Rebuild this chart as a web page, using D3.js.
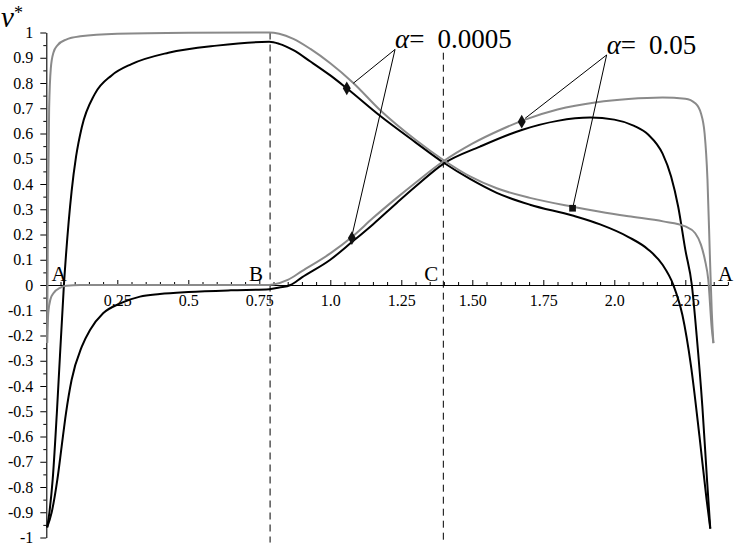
<!DOCTYPE html>
<html>
<head>
<meta charset="utf-8">
<script src="https://cdn.jsdelivr.net/npm/d3@7"></script>
<style>
body { margin: 0; background: #fff; }
svg { display: block; }
text { font-family: "Liberation Serif", "Times New Roman", serif; fill: #000; }
</style>
</head>
<body>
<svg id="chart"></svg>
<script>
// nu* against the angle, two alpha values, two branches each

// alpha = 0.0005 (grey)
var grayUpper = [[0.003,-0.23],[0.006,0.3],[0.01,0.7],[0.016,0.86],[0.025,0.92],[0.04,0.95],[0.07,0.972],[0.12,0.985],[0.25,0.995],[0.5,0.999],[0.785,1.0],[0.82,0.995],[0.87,0.975],[0.93,0.935],[1.0,0.878],[1.081,0.80],[1.175,0.693],[1.3,0.575],[1.398,0.495],[1.492,0.43],[1.586,0.383],[1.703,0.345],[1.853,0.31],[1.95,0.29],[2.05,0.272],[2.172,0.252],[2.25,0.232],[2.285,0.205],[2.305,0.16],[2.319,0.1],[2.331,0.02],[2.343,-0.17],[2.349,-0.23]];
var grayLower = [[0.003,-0.23],[0.007,-0.11],[0.015,-0.055],[0.025,-0.033],[0.05,-0.01],[0.07,-0.003],[0.12,0],[0.5,0],[0.785,0],[0.8,0.002],[0.85,0.02],[0.9,0.055],[1.0,0.125],[1.076,0.19],[1.15,0.265],[1.234,0.345],[1.3,0.405],[1.398,0.49],[1.5,0.56],[1.6,0.615],[1.686,0.655],[1.8,0.695],[1.938,0.724],[2.05,0.737],[2.17,0.743],[2.25,0.738],[2.285,0.72],[2.305,0.68],[2.318,0.6],[2.328,0.42],[2.337,0.1],[2.343,-0.1],[2.349,-0.23]];

// alpha = 0.05 (black)
var blackUpper = [[0.003,-0.96],[0.011,-0.9],[0.0225,-0.77],[0.037,-0.51],[0.062,0.0],[0.089,0.37],[0.105,0.51],[0.125,0.625],[0.17,0.755],[0.23,0.83],[0.3,0.875],[0.43,0.92],[0.6,0.948],[0.785,0.963],[0.82,0.955],[0.87,0.93],[0.93,0.885],[1.0,0.83],[1.058,0.779],[1.175,0.67],[1.3,0.565],[1.398,0.485],[1.492,0.42],[1.586,0.365],[1.703,0.318],[1.853,0.275],[1.95,0.24],[2.05,0.19],[2.12,0.14],[2.17,0.08],[2.208,0.0],[2.24,-0.12],[2.27,-0.32],[2.3,-0.6],[2.325,-0.85],[2.338,-0.965]];
var blackLower = [[0.003,-0.96],[0.019,-0.9],[0.039,-0.77],[0.054,-0.64],[0.069,-0.51],[0.089,-0.376],[0.125,-0.244],[0.154,-0.178],[0.2,-0.112],[0.26,-0.073],[0.33,-0.046],[0.4,-0.036],[0.5,-0.028],[0.65,-0.021],[0.785,-0.017],[0.82,-0.01],[0.86,0.0],[0.9,0.03],[1.0,0.1],[1.076,0.17],[1.15,0.24],[1.234,0.325],[1.3,0.39],[1.398,0.48],[1.527,0.548],[1.674,0.614],[1.8,0.65],[1.915,0.663],[2.0,0.655],[2.07,0.63],[2.12,0.595],[2.17,0.52],[2.2,0.43],[2.225,0.31],[2.25,0.14],[2.273,0.0],[2.29,-0.2],[2.31,-0.48],[2.327,-0.78],[2.338,-0.965]];

var xTicks = [0.25, 0.5, 0.75, 1.0, 1.25, 1.5, 1.75, 2.0, 2.25];
var xTickLabels = ["0.25", "0.5", "0.75", "1.0", "1.25", "1.50", "1.75", "2.0", "2.25"];
var yTicks = d3.range(-10, 11).map(function(i) { return i / 10; });
var yTickLabels = ["-1","-0.9","-0.8","-0.7","-0.6","-0.5","-0.4","-0.3","-0.2","-0.1","0","0.1","0.2","0.3","0.4","0.5","0.6","0.7","0.8","0.9","1"];

// special angles
var pointNames = ["A", "B", "C", "A"];
var pointX = [0.045, 0.788, 1.398, 2.392];
var dashedX = [0.788, 1.398];
var dashedTop = [1.0, 0.92];

// markers and callouts
var markers = [[1.058, 0.779, "diamond"], [1.674, 0.647, "diamond"], [1.853, 0.304, "square"], [1.076, 0.186, "diamond"]];
var alphaLabels = ["0.0005", "0.05"];
var alphaAnchor = [[1.228, 0.933], [1.973, 0.911]];
var alphaTargets = [[[1.081, 0.799], [1.076, 0.194]], [[1.686, 0.66], [1.856, 0.317]]];

var svgWidth = 750, svgHeight = 554;
var svg = d3.select("#chart").attr("width", svgWidth).attr("height", svgHeight);

var x = d3.scaleLinear().domain([0, 2.4]).range([46.3, 727.9]);
var y = d3.scaleLinear().domain([-1, 1]).range([537.5, 32.5]);

// y axis
var yAxis = svg.append("g")
    .attr("transform", "translate(" + x(0) + ",0)")
    .call(d3.axisLeft(y).tickValues(yTicks).tickSize(6).tickSizeOuter(0).tickPadding(7)
        .tickFormat(function(d, i) { return yTickLabels[i]; }));
yAxis.selectAll("text").style("font-size", "16px").style("font-family", '"Liberation Serif", serif');

svg.append("g")
    .attr("transform", "translate(" + x(0) + ",0)")
    .call(d3.axisLeft(y).tickValues(yTicks.slice(0, -1).map(function(d) { return d + 0.05; }))
        .tickSize(3).tickSizeOuter(0).tickFormat(""))
    .select(".domain").remove();

// x axis, ticks pointing up, labels below
var minorX = d3.range(1, 49).map(function(i) { return i * 0.05; })
    .filter(function(d) { return Math.abs(d / 0.25 - Math.round(d / 0.25)) > 0.01; });
var xAxis = svg.append("g")
    .attr("transform", "translate(0," + y(0) + ")")
    .call(d3.axisBottom(x).tickValues(xTicks).tickSize(-5).tickSizeOuter(0).tickPadding(10)
        .tickFormat(function(d, i) { return xTickLabels[i]; }));
xAxis.selectAll("text").style("font-size", "16px").style("font-family", '"Liberation Serif", serif');

svg.append("g")
    .attr("transform", "translate(0," + y(0) + ")")
    .call(d3.axisBottom(x).tickValues(minorX).tickSize(-3).tickSizeOuter(0).tickFormat(""))
    .select(".domain").remove();

svg.selectAll(".domain").attr("stroke-width", 1.1);

// dashed guides at B and C
svg.selectAll("line.guide")
    .data(dashedX)
    .enter()
    .append("line")
    .attr("class", "guide")
    .attr("x1", function(d) { return x(d); })
    .attr("x2", function(d) { return x(d); })
    .attr("y1", function(d, i) { return y(dashedTop[i]); })
    .attr("y2", y(-1.02))
    .attr("stroke", "#000")
    .attr("stroke-width", 1)
    .attr("stroke-dasharray", "7,5");

// curves
var line = d3.line()
    .x(function(d) { return x(d[0]); })
    .y(function(d) { return y(d[1]); })
    .curve(d3.curveMonotoneX);

var curves = [
    {pts: blackUpper, color: "#000"},
    {pts: blackLower, color: "#000"},
    {pts: grayUpper, color: "#8a8a8a"},
    {pts: grayLower, color: "#8a8a8a"}
];
svg.selectAll("path.curve")
    .data(curves)
    .enter()
    .append("path")
    .attr("class", "curve")
    .attr("d", function(d) { return line(d.pts); })
    .attr("fill", "none")
    .attr("stroke", function(d) { return d.color; })
    .attr("stroke-width", 2);

// point labels A B C A
svg.selectAll("text.pt")
    .data(pointNames)
    .enter()
    .append("text")
    .attr("class", "pt")
    .attr("x", function(d, i) { return x(pointX[i]) + (i == 1 ? -7 : i == 2 ? -5 : 0); })
    .attr("y", y(0) - 4)
    .attr("text-anchor", function(d, i) { return (i == 1 || i == 2) ? "end" : "middle"; })
    .style("font-size", "21px")
    .text(function(d) { return d; });

// callout lines
alphaTargets.forEach(function(targets, i) {
    targets.forEach(function(t) {
        svg.append("line")
            .attr("x1", x(alphaAnchor[i][0]))
            .attr("y1", y(alphaAnchor[i][1]))
            .attr("x2", x(t[0]))
            .attr("y2", y(t[1]))
            .attr("stroke", "#000")
            .attr("stroke-width", 1);
    });
});

// markers
svg.selectAll("path.marker")
    .data(markers)
    .enter()
    .append("path")
    .attr("class", "marker")
    .attr("transform", function(d) { return "translate(" + x(d[0]) + "," + y(d[1]) + ")"; })
    .attr("d", function(d) {
        return d3.symbol().type(d[2] == "square" ? d3.symbolSquare : d3.symbolDiamond).size(d[2] == "square" ? 45 : 55)();
    })
    .attr("fill", "#111");

// alpha labels
alphaLabels.forEach(function(lab, i) {
    var t = svg.append("text")
        .attr("x", x(alphaAnchor[i][0]))
        .attr("y", y(alphaAnchor[i][1]) - 1)
        .style("font-size", "27px");
    t.append("tspan").style("font-style", "italic").text("\u03b1");
    t.append("tspan").text("=");
    t.append("tspan").attr("dx", 13).text(lab);
});

// axis title
var title = svg.append("text").attr("x", 1).attr("y", 27).style("font-size", "29px");
title.append("tspan").style("font-style", "italic").text("\u03bd");
title.append("tspan").attr("dy", -8).style("font-size", "18px").text("*");
</script>
</body>
</html>
